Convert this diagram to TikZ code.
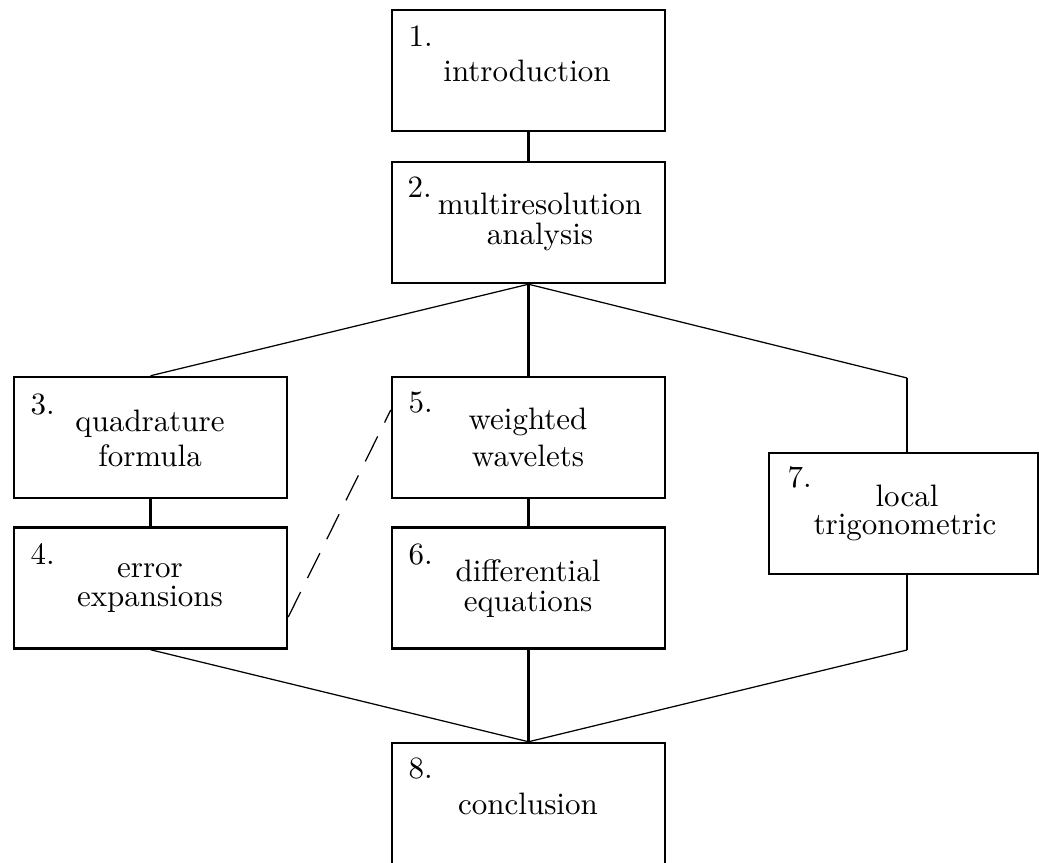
\documentclass[tikz,border=0pt]{standalone}
\usetikzlibrary{calc}
\begin{document}
\begin{tikzpicture}[x=0.3226pt,y=-0.3226pt,
  box/.style={draw,line width=0.8pt,rectangle,inner sep=0pt,minimum width=88.07pt,minimum height=39.03pt},
  heavy/.style={line width=0.8pt},
  light/.style={line width=0.4pt},
  dashlink/.style={line width=0.4pt,dash pattern=on 9pt off 5pt},
  txt/.style={anchor=base,inner sep=0pt},
  num/.style={anchor=base west,inner sep=0pt}]
\useasboundingbox (0,0) rectangle (1039,863);
% boxes
\node[box] (b1) at (528.5,70.5) {};
\node[box] (b2) at (528.5,222.5) {};
\node[box] (b3) at (150.5,437.5) {};
\node[box] (b4) at (150.5,588) {};
\node[box] (b5) at (528.5,437.5) {};
\node[box] (b6) at (528.5,588) {};
\node[box,minimum width=86.8pt] (b7) at (903.5,513.5) {};
\node[box] (b8) at (528.5,803.5) {};
% numbers
\node[num] (n1) at (408,47) {1.};
\node[num] (n2) at (407,198) {2.};
\node[num] (n3) at (30,415) {3.};
\node[num] (n4) at (30,565) {4.};
\node[num] (n5) at (408,413) {5.};
\node[num] (n6) at (408,565) {6.};
\node[num] (n7) at (787,488) {7.};
\node[num] (n8) at (408,779) {8.};
% texts
\node[txt] (t1) at (527,82) {introduction};
\node[txt] (t2a) at (540,215) {multiresolution};
\node[txt] (t2b) at (540,245) {analysis};
\node[txt] (t3a) at (150,432) {quadrature};
\node[txt] (t3b) at (150,467) {formula};
\node[txt] (t4a) at (150,578) {error};
\node[txt] (t4b) at (150,607) {expansions};
\node[txt] (t5a) at (528,430) {weighted};
\node[txt] (t5b) at (528,467) {wavelets};
\node[txt] (t6a) at (528,582) {differential};
\node[txt] (t6b) at (528,612) {equations};
\node[txt] (t7a) at (907,507) {local};
\node[txt] (t7b) at (905,535) {trigonometric};
\node[txt] (t8) at (528,815) {conclusion};
% free corner points of the route through box 7
\coordinate (c7a) at (907,378);
\coordinate (c7b) at (907,650);
% connectors
\draw[heavy] (b1.south) -- (b2.north);
\draw[light] (b2.south) -- (b3.north);
\draw[heavy] (b2.south) -- (b5.north);
\draw[light] (b2.south) -- (c7a);
\draw[heavy] (c7a) -- (c7a |- b7.north);
\draw[heavy] (b3.south) -- (b4.north);
\draw[heavy] (b5.south) -- (b6.north);
\draw[heavy] (b6.south) -- (b8.north);
\draw[light] (b4.south) -- (b8.north);
\draw[heavy] (c7b |- b7.south) -- (c7b);
\draw[light] (c7b) -- (b8.north);
\draw[dashlink] ([yshift=-9.36pt]b4.east) -- ([yshift=8.87pt]b5.west);
\end{tikzpicture}
\end{document}
